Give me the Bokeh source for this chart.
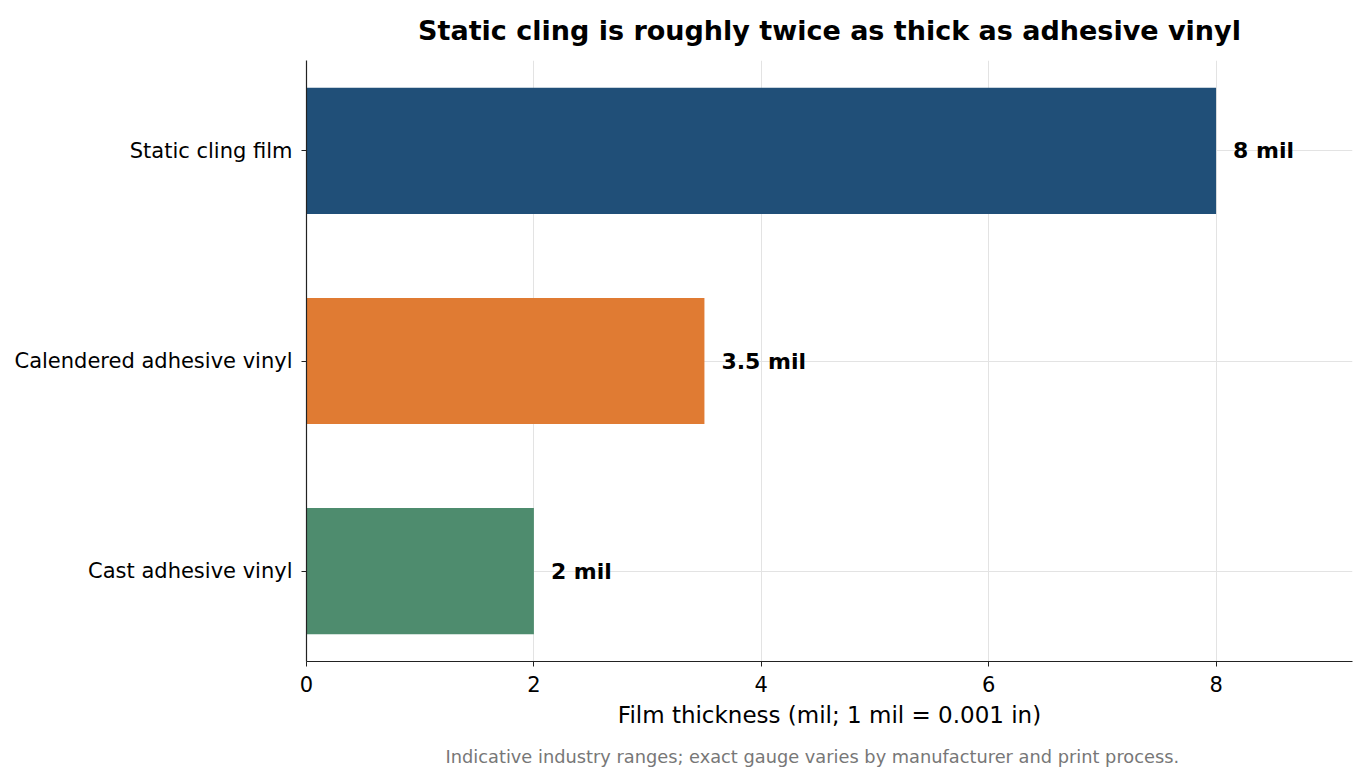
from bokeh.plotting import figure
from bokeh.models import ColumnDataSource, FixedTicker, Range1d, Title
from bokeh.core.properties import value
from bokeh.embed import file_html
from bokeh.resources import INLINE

categories = ["Cast adhesive vinyl", "Calendered adhesive vinyl", "Static cling film"]
thickness = [2, 3.5, 8]
value_labels = ["2 mil", "3.5 mil", "8 mil"]
colors = ["#4e8c6e", "#e07b33", "#204f78"]
x_ticks = [0, 2, 4, 6, 8]

title_text = "Static cling is roughly twice as thick as adhesive vinyl"
x_label = "Film thickness (mil; 1 mil = 0.001 in)"
footnote = "Indicative industry ranges; exact gauge varies by manufacturer and print process."

FONT = "DejaVu Sans"
pos = list(range(len(categories)))
src = ColumnDataSource(dict(y=pos, x=thickness, lab=value_labels, color=colors))

p = figure(width=1367, height=781, output_backend="svg", toolbar_location=None,
           x_range=Range1d(0, 9.2), y_range=Range1d(-0.43, 2.43),
           min_border_left=306, min_border_top=60, min_border_right=15, min_border_bottom=120)

p.hbar(y="y", right="x", left=0, height=0.6, color="color", source=src, line_color=None)
p.text(x="x", y="y", text="lab", source=src, x_offset=17, text_baseline="middle",
       text_align="left", text_font=value(FONT), text_font_style="bold",
       text_font_size="22px", text_color="black")

p.title.text = title_text
p.title.align = "center"
p.title.vertical_align = "top"
p.title.text_font = FONT
p.title.text_font_size = "27px"
p.title.text_font_style = "bold"
p.title.text_color = "black"
p.title.standoff = 26

p.outline_line_color = None
p.background_fill_color = "white"
p.border_fill_color = "white"

xa = p.xaxis[0]
xa.ticker = FixedTicker(ticks=x_ticks)
xa.axis_label = x_label
ya = p.yaxis[0]
ya.ticker = FixedTicker(ticks=pos)
ya.major_label_overrides = {i: c for i, c in zip(pos, categories)}
for ax in (xa, ya):
    ax.axis_line_color = "#222222"
    ax.axis_line_width = 1.2
    ax.major_tick_line_color = "#222222"
    ax.major_tick_out = 5
    ax.major_tick_in = 0
    ax.minor_tick_line_color = None
    ax.major_label_text_font = FONT
    ax.major_label_text_font_size = "21px"
    ax.major_label_text_color = "black"
    ax.axis_label_text_font = FONT
    ax.axis_label_text_font_size = "23px"
    ax.axis_label_text_font_style = "normal"
    ax.axis_label_text_color = "black"
ya.major_label_standoff = 9
xa.major_label_standoff = 9
xa.axis_label_standoff = 7

p.xgrid.grid_line_color = "#e3e3e3"
p.ygrid.grid_line_color = "#e3e3e3"
p.xgrid.ticker = FixedTicker(ticks=x_ticks)
p.ygrid.ticker = FixedTicker(ticks=pos)

note = Title(text=footnote, align="left", offset=139, text_font=FONT,
             text_font_size="17.8px", text_font_style="normal", text_color="#777777",
             standoff=26)
p.add_layout(note, "below")

open("out.html", "w").write(file_html(p, INLINE))
